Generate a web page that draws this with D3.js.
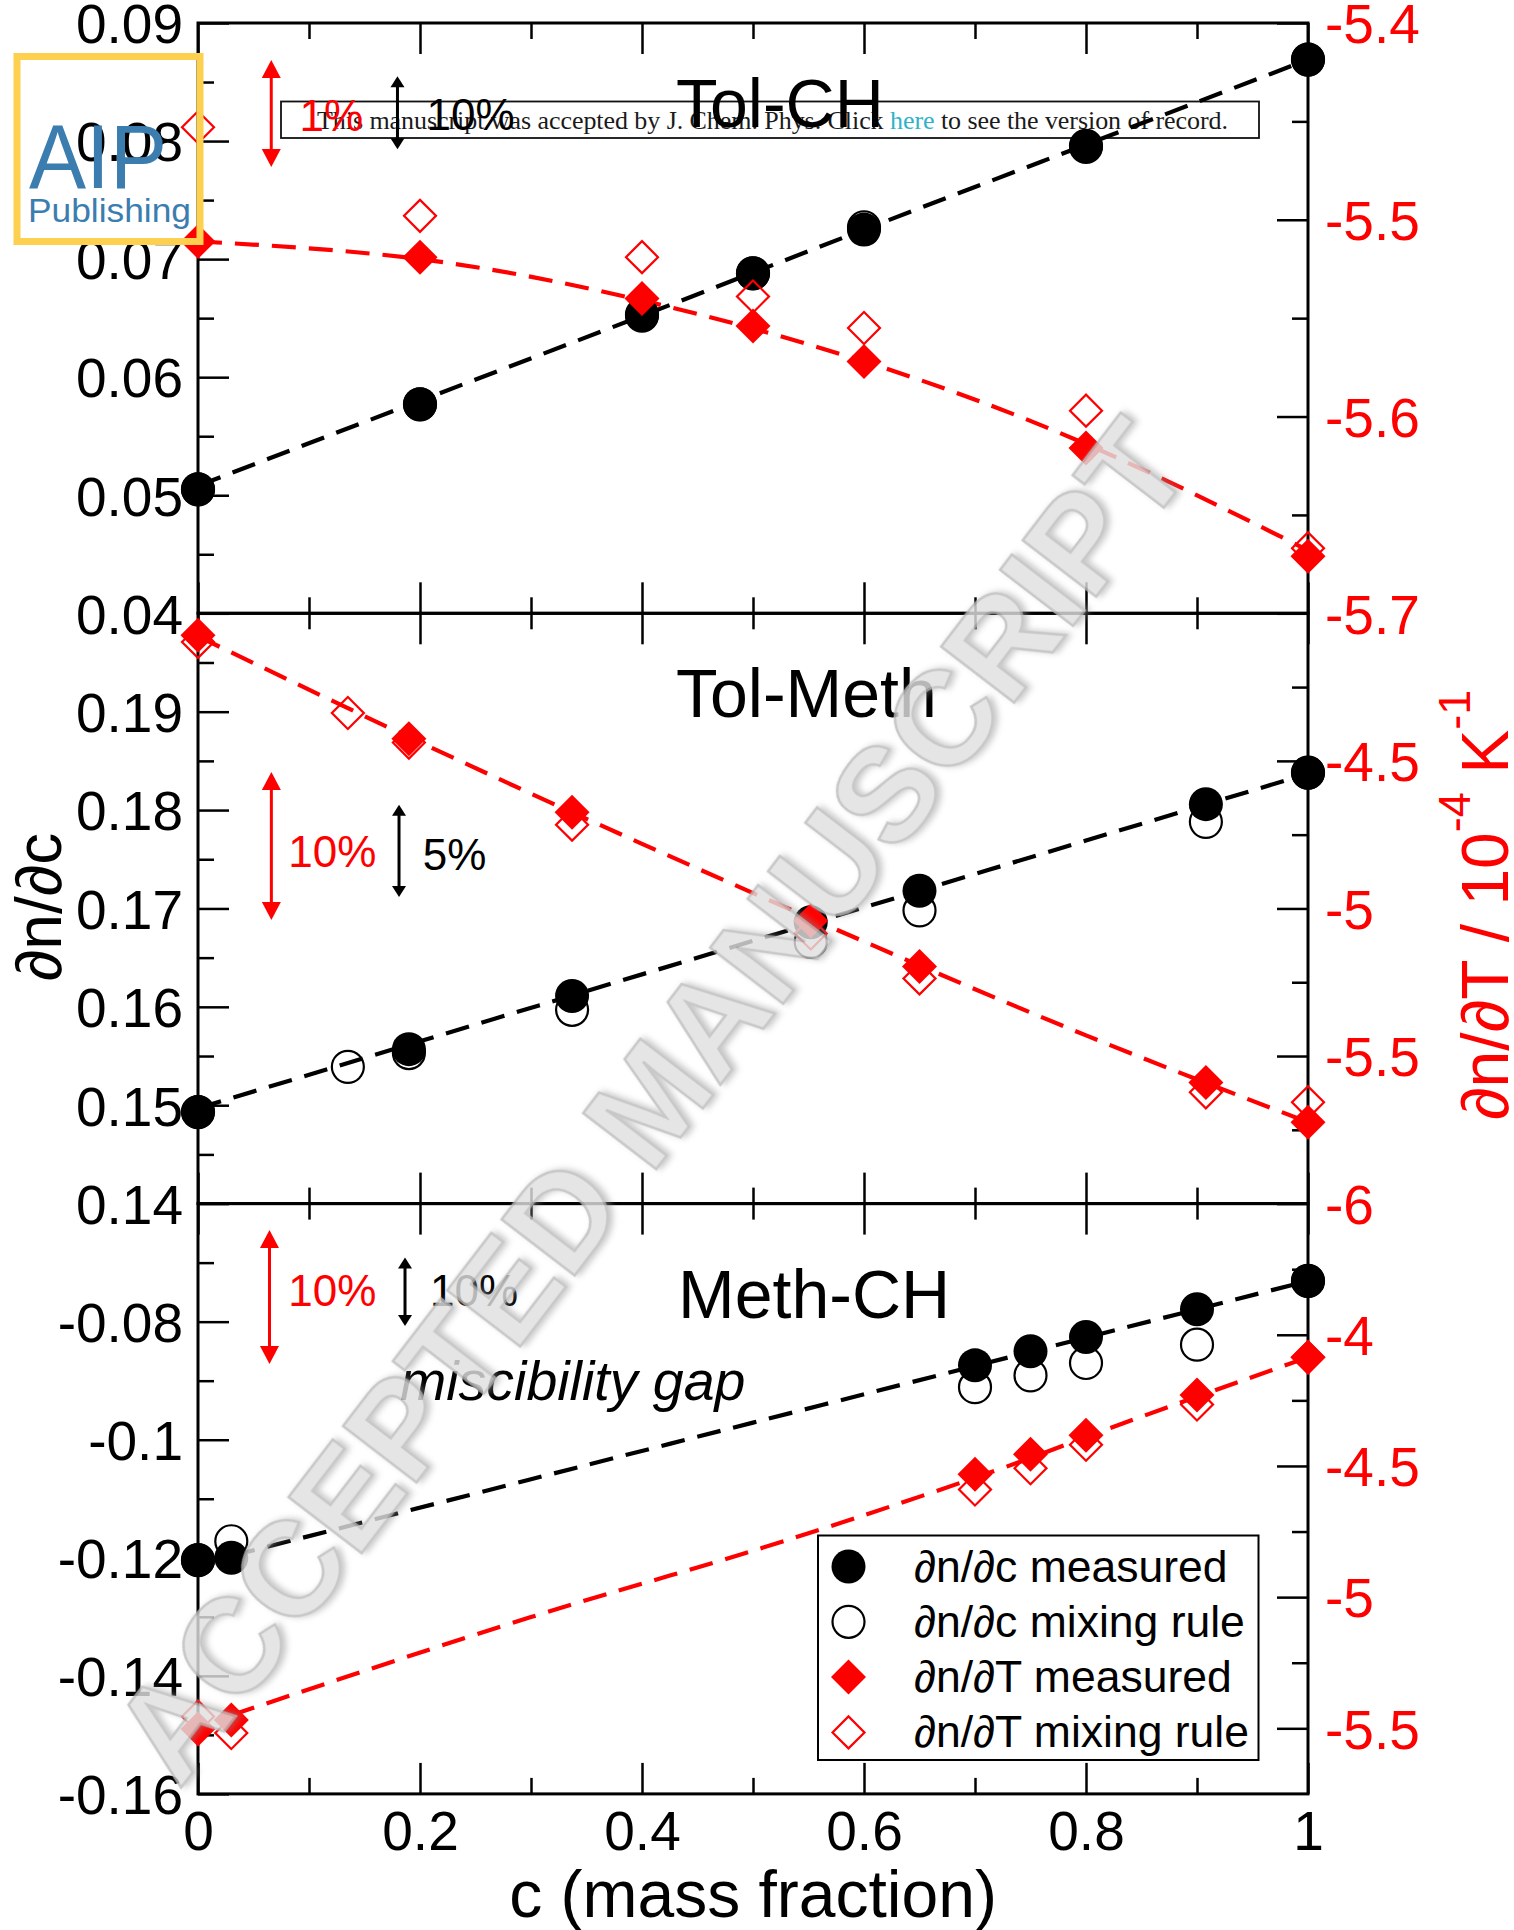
<!DOCTYPE html>
<html>
<head>
<meta charset="utf-8">
<script src="https://cdn.jsdelivr.net/npm/d3@7/dist/d3.min.js"></script>
<style>
  html, body { margin: 0; padding: 0; background: #fff; }
  svg { display: block; }
</style>
</head>
<body>
<svg id="chart" width="1514" height="1930"></svg>
<script>
// ---------- shared axis ----------
const xTicks = [0, 0.2, 0.4, 0.6, 0.8, 1];
const panelNames = ["Tol-CH", "Tol-Meth", "Meth-CH"];
const yTicks = [
  [0.04, 0.05, 0.06, 0.07, 0.08, 0.09],
  [0.14, 0.15, 0.16, 0.17, 0.18, 0.19],
  [-0.16, -0.14, -0.12, -0.1, -0.08]
];
const rTicks = [
  [-5.7, -5.6, -5.5, -5.4],
  [-6, -5.5, -5, -4.5],
  [-5.5, -5, -4.5, -4]
];
const legendLabels = ["\u2202n/\u2202c measured", "\u2202n/\u2202c mixing rule",
                      "\u2202n/\u2202T measured", "\u2202n/\u2202T mixing rule"];

// ---------- Tol-CH ----------
const tolCH_cMeas  = [0, 0.2, 0.4, 0.5, 0.6, 0.8, 1];
const tolCH_dcMeas = [0.0505, 0.0577, 0.0652, 0.0688, 0.0725, 0.0795, 0.0869];
const tolCH_dTMeas = [-5.511, -5.519, -5.540, -5.554, -5.572, -5.616, -5.671];
const tolCH_cMix   = [0, 0.2, 0.4, 0.5, 0.6, 0.8, 1];
const tolCH_dcMix  = [0.0505, 0.0577, 0.0653, 0.0688, 0.0727, 0.0796, 0.0869];
const tolCH_dTMix  = [-5.453, -5.498, -5.519, -5.539, -5.555, -5.597, -5.667];
const tolCH_cFit   = [0, 0.2, 0.4, 0.6, 0.8, 1];
const tolCH_dcFit  = [0.0508, 0.0580, 0.0652, 0.0725, 0.0797, 0.0869];
const tolCH_dTFit  = [-5.511, -5.520, -5.541, -5.572, -5.614, -5.668];

// ---------- Tol-Meth ----------
const tolMeth_cMeas  = [0, 0.19, 0.337, 0.552, 0.65, 0.908, 1];
const tolMeth_dcMeas = [0.1493, 0.1557, 0.1611, 0.1686, 0.1718, 0.1806, 0.1838];
const tolMeth_dTMeas = [-4.074, -4.425, -4.674, -5.042, -5.197, -5.590, -5.724];
const tolMeth_cMix   = [0, 0.135, 0.19, 0.337, 0.552, 0.65, 0.908, 1];
const tolMeth_dcMix  = [0.1493, 0.1539, 0.1553, 0.1597, 0.1666, 0.1698, 0.1788, 0.1838];
const tolMeth_dTMix  = [-4.097, -4.338, -4.438, -4.716, -5.085, -5.237, -5.623, -5.657];
const tolMeth_cFit   = [0, 0.2, 0.4, 0.6, 0.8, 1];
const tolMeth_dcFit  = [0.1497, 0.1565, 0.1633, 0.1701, 0.1769, 0.1837];
const tolMeth_dTFit  = [-4.078, -4.437, -4.781, -5.112, -5.430, -5.724];

// ---------- Meth-CH ----------
const methCH_cMeas  = [0, 0.03, 0.7, 0.75, 0.8, 0.9, 1];
const methCH_dcMeas = [-0.1204, -0.1200, -0.0874, -0.0850, -0.0826, -0.0779, -0.0731];
const methCH_dTMeas = [-5.503, -5.468, -4.532, -4.455, -4.383, -4.230, -4.086];
const methCH_cMix   = [0, 0.03, 0.7, 0.75, 0.8, 0.9, 1];
const methCH_dcMix  = [-0.1204, -0.1172, -0.0911, -0.0891, -0.0870, -0.0839, -0.0731];
const methCH_dTMix  = [-5.455, -5.518, -4.590, -4.509, -4.419, -4.266, -4.086];
const methCH_cFit   = [0.03, 0.3, 0.5, 0.7, 0.8, 0.9, 1];
const methCH_dcFit  = [-0.1197, -0.1067, -0.0971, -0.0875, -0.0827, -0.0779, -0.0731];
const methCH_dTFit  = [-5.450, -5.076, -4.823, -4.545, -4.390, -4.236, -4.086];

// ---------- panel setup ----------
const zip = (c, v) => c.map((ci, i) => [ci, v[i]]);
const panels = [
  { name: panelNames[0], yL: [0.04, 0.09], yR: [-5.7, -5.4], lTicks: yTicks[0], lStep: 0.01,
    rTicks: rTicks[0], rStep: 0.1,
    dcMeas: zip(tolCH_cMeas, tolCH_dcMeas), dTMeas: zip(tolCH_cMeas, tolCH_dTMeas),
    dcMix: zip(tolCH_cMix, tolCH_dcMix), dTMix: zip(tolCH_cMix, tolCH_dTMix),
    dcFit: zip(tolCH_cFit, tolCH_dcFit), dTFit: zip(tolCH_cFit, tolCH_dTFit),
    title: { c: 0.4306, y: 0.0812 },
    red: { c: 0.066, y: [-5.4188, -5.4732], tc: 0.0914, ty: -5.4547, t: "1%" },
    black: { c: 0.1797, y: [0.0855, 0.0793], tc: 0.2059, ty: 0.0809, t: "10%" } },
  { name: panelNames[1], yL: [0.14, 0.20], yR: [-6, -4], lTicks: yTicks[1], lStep: 0.01,
    rTicks: rTicks[1], rStep: 0.5,
    dcMeas: zip(tolMeth_cMeas, tolMeth_dcMeas), dTMeas: zip(tolMeth_cMeas, tolMeth_dTMeas),
    dcMix: zip(tolMeth_cMix, tolMeth_dcMix), dTMix: zip(tolMeth_cMix, tolMeth_dTMix),
    dcFit: zip(tolMeth_cFit, tolMeth_dcFit), dTFit: zip(tolMeth_cFit, tolMeth_dTFit),
    title: { c: 0.4306, y: 0.1895 },
    red: { c: 0.0661, y: [-4.538, -5.039], tc: 0.0814, ty: -4.8595, t: "10%" },
    black: { c: 0.1811, y: [0.18054, 0.17116], tc: 0.2024, ty: 0.17391, t: "5%" } },
  { name: panelNames[2], yL: [-0.16, -0.06], yR: [-5.75, -3.5], lTicks: yTicks[2], lStep: 0.02,
    rTicks: rTicks[2], rStep: 0.5,
    dcMeas: zip(methCH_cMeas, methCH_dcMeas), dTMeas: zip(methCH_cMeas, methCH_dTMeas),
    dcMix: zip(methCH_cMix, methCH_dcMix), dTMix: zip(methCH_cMix, methCH_dTMix),
    dcFit: zip(methCH_cFit, methCH_dcFit), dTFit: zip(methCH_cFit, methCH_dTFit),
    title: { c: 0.4325, y: -0.07938 },
    red: { c: 0.0644, y: [-3.6006, -4.1114], tc: 0.0814, ty: -3.8888, t: "10%" },
    black: { c: 0.1865, y: [-0.06913, -0.08074], tc: 0.209, ty: -0.07728, t: "10%" },
    note: { c: 0.182, y: -0.09327, t: "miscibility gap" } }
];

// ---------- layout ----------
const W = 1514, H = 1930;
const L = 198, R = 1308, T0 = 23, PH = 590.3;
const FONT = "'Liberation Sans', Arial, Helvetica, sans-serif";
const RED = "#ff0000";
const TICK_FS = 55;

const svg = d3.select("#chart");
svg.append("rect").attr("width", W).attr("height", H).attr("fill", "#fff");

const x = d3.scaleLinear().domain([0, 1]).range([L, R]);
const fmt = d => String(+d.toFixed(4));

function minorsOf(majors, step, dom) {
  const s = new Set();
  majors.forEach(m => [m - step / 2, m + step / 2].forEach(v => {
    if (v > dom[0] + 1e-9 && v < dom[1] - 1e-9) s.add(+v.toFixed(6));
  }));
  return [...s];
}
const xMinor = minorsOf(xTicks, 0.2, [0, 1]);

// ---------- banner (drawn underneath the plot) ----------
const banner = svg.append("g");
banner.append("rect").attr("x", 281).attr("y", 101.5).attr("width", 978).attr("height", 36.5)
  .attr("fill", "none").attr("stroke", "#111").attr("stroke-width", 1.8);
const bt = banner.append("text").attr("x", 317).attr("y", 128.5)
  .attr("font-family", "'Liberation Serif', 'Times New Roman', serif").attr("font-size", 26)
  .attr("fill", "#1a1a1a").attr("textLength", 911).attr("lengthAdjust", "spacing");
bt.append("tspan").text("This manuscript was accepted by J. Chem. Phys. Click ");
bt.append("tspan").attr("fill", "#2fb3c8").text("here");
bt.append("tspan").text(" to see the version of record.");

const line = (xs, ys) => d3.line().x(d => xs(d[0])).y(d => ys(d[1])).curve(d3.curveNatural);

function doubleArrow(g, px, y1, y2, color, headL, headW, sw) {
  g.append("line").attr("x1", px).attr("x2", px).attr("y1", y1 + headL * 0.6).attr("y2", y2 - headL * 0.6)
    .attr("stroke", color).attr("stroke-width", sw);
  g.append("path").attr("d", `M${px},${y1}L${px - headW / 2},${y1 + headL}L${px + headW / 2},${y1 + headL}Z`).attr("fill", color);
  g.append("path").attr("d", `M${px},${y2}L${px - headW / 2},${y2 - headL}L${px + headW / 2},${y2 - headL}Z`).attr("fill", color);
}

const circleFilled = d3.symbol().type(d3.symbolCircle).size(Math.PI * 17 * 17);
const circleOpen   = d3.symbol().type(d3.symbolCircle).size(Math.PI * 16 * 16);
const diamondFilled = d3.symbol().type(d3.symbolSquare).size(Math.pow(17.5 * Math.SQRT2, 2));
const diamondOpen   = d3.symbol().type(d3.symbolSquare).size(Math.pow(16 * Math.SQRT2, 2));

panels.forEach((p, i) => {
  const top = T0 + i * PH, bottom = top + PH;
  const yL = d3.scaleLinear().domain(p.yL).range([bottom, top]);
  const yR = d3.scaleLinear().domain(p.yR).range([bottom, top]);
  const g = svg.append("g").attr("class", "panel");

  // axes: left
  const gl = g.append("g").attr("transform", `translate(${L},0)`)
    .call(d3.axisLeft(yL).tickValues(p.lTicks).tickSize(-31).tickSizeOuter(0).tickPadding(15).tickFormat(fmt));
  gl.select(".domain").remove();
  gl.selectAll("line").attr("stroke", "#000").attr("stroke-width", 2.5);
  gl.selectAll("text").attr("font-family", FONT).attr("font-size", TICK_FS).attr("fill", "#000").attr("dy", "0.36em");
  const glm = g.append("g").attr("transform", `translate(${L},0)`)
    .call(d3.axisLeft(yL).tickValues(minorsOf(p.lTicks, p.lStep, p.yL)).tickSize(-16).tickSizeOuter(0).tickFormat(""));
  glm.select(".domain").remove();
  glm.selectAll("line").attr("stroke", "#000").attr("stroke-width", 2.5);

  // axes: right
  const gr = g.append("g").attr("transform", `translate(${R},0)`)
    .call(d3.axisRight(yR).tickValues(p.rTicks).tickSize(-31).tickSizeOuter(0).tickPadding(17).tickFormat(fmt));
  gr.select(".domain").remove();
  gr.selectAll("line").attr("stroke", "#000").attr("stroke-width", 2.5);
  gr.selectAll("text").attr("font-family", FONT).attr("font-size", TICK_FS).attr("fill", RED).attr("dy", "0.36em");
  const grm = g.append("g").attr("transform", `translate(${R},0)`)
    .call(d3.axisRight(yR).tickValues(minorsOf(p.rTicks, p.rStep, p.yR)).tickSize(-16).tickSizeOuter(0).tickFormat(""));
  grm.select(".domain").remove();
  grm.selectAll("line").attr("stroke", "#000").attr("stroke-width", 2.5);

  // axes: top and bottom
  [[d3.axisTop, top], [d3.axisBottom, bottom]].forEach(([ax, yy], k) => {
    const labelled = (k === 1 && i === panels.length - 1);
    const ga = g.append("g").attr("transform", `translate(0,${yy})`)
      .call(ax(x).tickValues(xTicks).tickSize(-31).tickSizeOuter(0).tickPadding(17)
        .tickFormat(labelled ? fmt : ""));
    ga.select(".domain").remove();
    ga.selectAll("line").attr("stroke", "#000").attr("stroke-width", 2.5);
    ga.selectAll("text").attr("font-family", FONT).attr("font-size", TICK_FS).attr("fill", "#000");
    const gm = g.append("g").attr("transform", `translate(0,${yy})`)
      .call(ax(x).tickValues(xMinor).tickSize(-16).tickSizeOuter(0).tickFormat(""));
    gm.select(".domain").remove();
    gm.selectAll("line").attr("stroke", "#000").attr("stroke-width", 2.5);
  });

  // frame
  g.append("rect").attr("x", L).attr("y", top).attr("width", R - L).attr("height", PH)
    .attr("fill", "none").attr("stroke", "#000").attr("stroke-width", 3);

  // title
  g.append("text").attr("x", x(p.title.c)).attr("y", yL(p.title.y))
    .attr("font-family", FONT).attr("font-size", 68).attr("fill", "#000").text(p.name);

  // percentage arrows
  doubleArrow(g, x(p.red.c), yR(p.red.y[0]), yR(p.red.y[1]), RED, 18, 19, 3);
  g.append("text").attr("x", x(p.red.tc)).attr("y", yR(p.red.ty))
    .attr("font-family", FONT).attr("font-size", 44).attr("fill", RED).text(p.red.t);
  doubleArrow(g, x(p.black.c), yL(p.black.y[0]), yL(p.black.y[1]), "#000", 11, 14, 3);
  g.append("text").attr("x", x(p.black.tc)).attr("y", yL(p.black.ty))
    .attr("font-family", FONT).attr("font-size", 44).attr("fill", "#000").text(p.black.t);
  if (p.note) {
    g.append("text").attr("x", x(p.note.c)).attr("y", yL(p.note.y))
      .attr("font-family", FONT).attr("font-size", 55.5).attr("font-style", "italic")
      .attr("fill", "#000").text(p.note.t);
  }

  // fitted curves
  g.append("path").attr("d", line(x, yL)(p.dcFit)).attr("fill", "none")
    .attr("stroke", "#000").attr("stroke-width", 4.2).attr("stroke-dasharray", "24 13");
  g.append("path").attr("d", line(x, yR)(p.dTFit)).attr("fill", "none")
    .attr("stroke", RED).attr("stroke-width", 4.2).attr("stroke-dasharray", "24 13");

  // dn/dc markers
  g.selectAll(null).data(p.dcMeas).join("path")
    .attr("transform", d => `translate(${x(d[0])},${yL(d[1])})`).attr("d", circleFilled).attr("fill", "#000");
  g.selectAll(null).data(p.dcMix).join("path")
    .attr("transform", d => `translate(${x(d[0])},${yL(d[1])})`).attr("d", circleOpen)
    .attr("fill", "none").attr("stroke", "#000").attr("stroke-width", 2.2);
  // dn/dT markers
  g.selectAll(null).data(p.dTMeas).join("path")
    .attr("transform", d => `translate(${x(d[0])},${yR(d[1])}) rotate(45)`).attr("d", diamondFilled).attr("fill", RED);
  g.selectAll(null).data(p.dTMix).join("path")
    .attr("transform", d => `translate(${x(d[0])},${yR(d[1])}) rotate(45)`).attr("d", diamondOpen)
    .attr("fill", "none").attr("stroke", RED).attr("stroke-width", 2.2);
});

// ---------- axis titles ----------
svg.append("text").attr("transform", "translate(61,907) rotate(-90)").attr("text-anchor", "middle")
  .attr("font-family", FONT).attr("font-size", 64).attr("fill", "#000").text("\u2202n/\u2202c");

const rl = svg.append("text").attr("transform", "translate(1508,1120) rotate(-90)")
  .attr("font-family", FONT).attr("font-size", 66).attr("fill", RED);
rl.append("tspan").text("\u2202n/\u2202T / 10");
rl.append("tspan").attr("font-size", 45).attr("dy", -38).text("-4");
rl.append("tspan").attr("dy", 38).text(" K");
rl.append("tspan").attr("font-size", 45).attr("dy", -38).text("-1");

svg.append("text").attr("x", (L + R) / 2).attr("y", 1917).attr("text-anchor", "middle")
  .attr("font-family", FONT).attr("font-size", 66).attr("fill", "#000").text("c (mass fraction)");

// ---------- legend ----------
const lg = svg.append("g");
lg.append("rect").attr("x", 818).attr("y", 1535.5).attr("width", 440.5).attr("height", 224.5)
  .attr("fill", "#fff").attr("stroke", "#000").attr("stroke-width", 2);
const legendSym = [
  { d: circleFilled, fill: "#000", stroke: "none", rot: 0 },
  { d: circleOpen, fill: "none", stroke: "#000", rot: 0 },
  { d: diamondFilled, fill: RED, stroke: "none", rot: 45 },
  { d: diamondOpen, fill: "none", stroke: RED, rot: 45 }
];
legendLabels.forEach((t, k) => {
  const yy = 1566.5 + k * 55.3;
  const s = legendSym[k];
  lg.append("path").attr("transform", `translate(848.5,${yy}) rotate(${s.rot})`).attr("d", s.d)
    .attr("fill", s.fill).attr("stroke", s.stroke).attr("stroke-width", 2.2);
  lg.append("text").attr("x", 914).attr("y", yy + 15).attr("font-family", FONT).attr("font-size", 44.5)
    .attr("fill", "#000").text(t);
});

// ---------- publisher logo ----------
const logo = svg.append("g");
logo.append("rect").attr("x", 17).attr("y", 56.5).attr("width", 183).attr("height", 185)
  .attr("fill", "none").attr("stroke", "#fdd04f").attr("stroke-width", 7);
logo.append("text").attr("x", 29).attr("y", 188).attr("font-family", FONT).attr("font-size", 90)
  .attr("fill", "#3c7db0").attr("textLength", 138).attr("lengthAdjust", "spacingAndGlyphs").text("AIP");
logo.append("text").attr("x", 28).attr("y", 222).attr("font-family", FONT).attr("font-size", 34)
  .attr("fill", "#3c7db0").attr("textLength", 163).attr("lengthAdjust", "spacingAndGlyphs").text("Publishing");

// ---------- stamp ----------
const defs = svg.append("defs");
const f = defs.append("filter").attr("id", "emboss").attr("x", "-10%").attr("y", "-10%").attr("width", "120%").attr("height", "120%");
f.append("feGaussianBlur").attr("in", "SourceAlpha").attr("stdDeviation", 3).attr("result", "b");
f.append("feOffset").attr("in", "b").attr("dx", 3).attr("dy", 3).attr("result", "o");
f.append("feFlood").attr("flood-color", "#8f8f8f").attr("flood-opacity", 0.6);
f.append("feComposite").attr("in2", "o").attr("operator", "in").attr("result", "s");
const fm = f.append("feMerge");
fm.append("feMergeNode").attr("in", "s");
fm.append("feMergeNode").attr("in", "SourceGraphic");

svg.append("text").attr("transform", "translate(687,1129) rotate(-52.5)")
  .attr("text-anchor", "middle").attr("font-family", FONT).attr("font-size", 134).attr("font-weight", "bold")
  .attr("fill", "#e0e0e0").attr("stroke", "#bcbcbc").attr("stroke-width", 2.5)
  .attr("opacity", 0.82).attr("filter", "url(#emboss)")
  .text("ACCEPTED MANUSCRIPT");
</script>
</body>
</html>
